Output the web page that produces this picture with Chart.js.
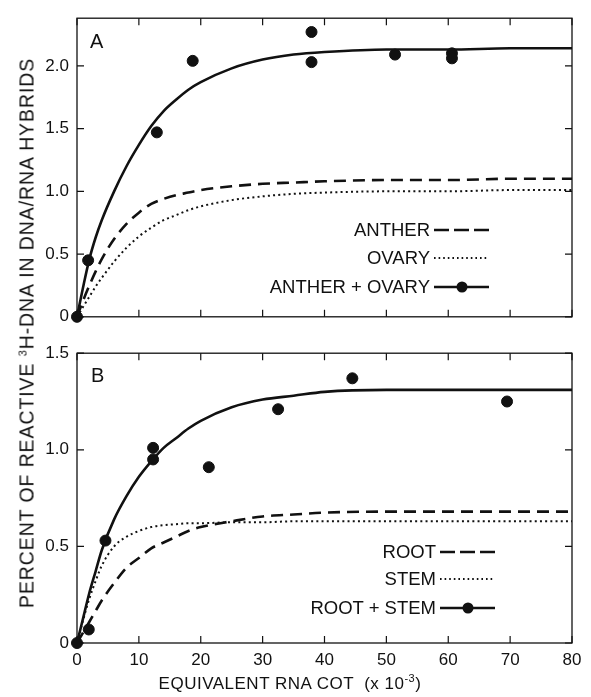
<!DOCTYPE html>
<html>
<head>
<meta charset="utf-8">
<script src="https://cdn.jsdelivr.net/npm/chart.js@4/dist/chart.umd.min.js"></script>
<style>
  body { margin: 0; background: #fff; }
  #wrap { position: relative; width: 591px; height: 697px; font-family: "Liberation Sans", Arial, sans-serif; color: #111; }
  canvas { position: absolute; left: 0; }
  #chartA { top: 0; }
  #chartB { top: 335px; }
  .lbl { position: absolute; font-size: 20px; }
  .ytitle { position: absolute; left: 27px; top: 333px; transform: translate(-50%, -50%) rotate(-90deg); white-space: nowrap; font-size: 19.5px; letter-spacing: 0.9px; }
  .xtitle { position: absolute; left: 290px; top: 683px; transform: translate(-50%, -50%); white-space: nowrap; font-size: 17px; letter-spacing: 0.5px; }
  sup { font-size: 11px; }
  .legend { position: absolute; font-size: 18.5px; }
  .row { position: absolute; right: 0; display: flex; align-items: center; white-space: nowrap; transform: translateY(-50%); }
  .row svg { margin-left: 3px; }
</style>
</head>
<body>
<div id="wrap">
  <canvas id="chartA" width="591" height="335"></canvas>
  <canvas id="chartB" width="591" height="362"></canvas>
  <div class="lbl" style="left:90px; top:30px;">A</div>
  <div class="lbl" style="left:91px; top:364px;">B</div>
  <div class="ytitle">PERCENT OF REACTIVE <sup>3</sup>H-DNA IN DNA/RNA HYBRIDS</div>
  <div class="xtitle">EQUIVALENT RNA COT &nbsp;(x 10<sup>-3</sup>)</div>
  <div class="legend" id="legendA" style="left:0; top:0; width:490px;"></div>
  <div class="legend" id="legendB" style="left:0; top:0; width:496px;"></div>
</div>
<script>
// x values (equivalent RNA Cot x 10^-3) where the fitted curves were read
const curveX = [0, 1, 2, 3, 4, 6, 8, 10, 12, 14, 16, 18, 20, 25, 30, 35, 40, 50, 60, 70, 80];

// panel A curves
const antherOvaryCurve = [0, 0.24, 0.46, 0.63, 0.77, 1.0, 1.2, 1.37, 1.52, 1.64, 1.73, 1.81, 1.87, 1.98, 2.05, 2.09, 2.11, 2.13, 2.13, 2.14, 2.14];
const antherCurve = [0, 0.13, 0.25, 0.36, 0.46, 0.62, 0.74, 0.83, 0.9, 0.94, 0.97, 0.99, 1.01, 1.04, 1.06, 1.07, 1.08, 1.09, 1.09, 1.10, 1.10];
const ovaryCurve = [0, 0.08, 0.16, 0.24, 0.31, 0.44, 0.55, 0.64, 0.71, 0.77, 0.81, 0.85, 0.88, 0.93, 0.96, 0.98, 0.99, 1.0, 1.0, 1.01, 1.01];
// measured points A (anther + ovary)
const pointsAx = [0, 1.8, 12.9, 18.7, 37.9, 37.9, 51.4, 60.6, 60.6];
const pointsAy = [0, 0.45, 1.47, 2.04, 2.27, 2.03, 2.09, 2.10, 2.06];

// panel B curves
const rootStemCurve = [0, 0.13, 0.26, 0.37, 0.48, 0.64, 0.76, 0.86, 0.94, 1.01, 1.06, 1.11, 1.15, 1.22, 1.26, 1.28, 1.30, 1.31, 1.31, 1.31, 1.31];
const rootCurve = [0, 0.055, 0.11, 0.165, 0.22, 0.31, 0.39, 0.44, 0.49, 0.52, 0.55, 0.58, 0.6, 0.63, 0.655, 0.665, 0.675, 0.68, 0.68, 0.68, 0.68];
const stemCurve = [0, 0.12, 0.23, 0.32, 0.40, 0.5, 0.55, 0.58, 0.6, 0.61, 0.615, 0.62, 0.62, 0.625, 0.625, 0.63, 0.63, 0.63, 0.63, 0.63, 0.63];
// measured points B (root + stem)
const pointsBx = [0, 1.9, 4.6, 12.3, 12.3, 21.3, 32.5, 44.5, 69.5];
const pointsBy = [0, 0.07, 0.53, 1.01, 0.95, 0.91, 1.21, 1.37, 1.25];

const xTicks = [0, 10, 20, 30, 40, 50, 60, 70, 80];

Chart.defaults.font.family = '"Liberation Sans", Arial, sans-serif';
Chart.defaults.font.size = 17;
Chart.defaults.color = '#111';

const INK = '#111';

function toXY(xs, ys) {
    return xs.map((x, i) => ({ x: x, y: ys[i] }));
}

function curve(ys, dash, width) {
    return {
        type: 'line',
        data: toXY(curveX, ys),
        borderColor: INK,
        borderWidth: width,
        borderDash: dash,
        pointRadius: 0,
        fill: false,
        cubicInterpolationMode: 'monotone'
    };
}

function dots(xs, ys) {
    return {
        type: 'scatter',
        data: toXY(xs, ys),
        backgroundColor: INK,
        borderColor: INK,
        pointRadius: 5.5,
        clip: false
    };
}

// inward tick marks on all four sides
const innerTicks = {
    id: 'innerTicks',
    afterDraw(chart) {
        const { ctx, chartArea: a, scales } = chart;
        const len = 7;
        ctx.save();
        ctx.strokeStyle = INK;
        ctx.lineWidth = 1.2;
        ctx.beginPath();
        scales.x.ticks.forEach(t => {
            const px = scales.x.getPixelForValue(t.value);
            ctx.moveTo(px, a.bottom); ctx.lineTo(px, a.bottom - len);
            ctx.moveTo(px, a.top); ctx.lineTo(px, a.top + len);
        });
        scales.y.ticks.forEach(t => {
            const py = scales.y.getPixelForValue(t.value);
            ctx.moveTo(a.left, py); ctx.lineTo(a.left + len, py);
            ctx.moveTo(a.right, py); ctx.lineTo(a.right - len, py);
        });
        ctx.stroke();
        ctx.lineWidth = 1.3;
        ctx.strokeRect(a.left, a.top, a.right - a.left, a.bottom - a.top);
        ctx.restore();
    }
};

function makeChart(id, datasets, yMax, showX, padTop, xHeight) {
    return new Chart(document.getElementById(id), {
        data: { datasets: datasets },
        options: {
            responsive: false,
            animation: false,
            layout: { padding: { top: padTop, right: 19, left: 0, bottom: 0 } },
            plugins: { legend: { display: false }, tooltip: { enabled: false } },
            scales: {
                x: {
                    type: 'linear', min: 0, max: 80,
                    afterBuildTicks: s => { s.ticks = xTicks.map(v => ({ value: v })); },
                    afterFit: s => { s.height = xHeight; },
                    grid: { display: false, drawTicks: false },
                    border: { display: false },
                    ticks: { display: showX, padding: 7, maxRotation: 0 }
                },
                y: {
                    type: 'linear', min: 0, max: yMax,
                    afterFit: s => { s.width = 77; },
                    grid: { display: false, drawTicks: false },
                    border: { display: false },
                    ticks: {
                        stepSize: 0.5, includeBounds: false, padding: 8,
                        callback: v => v === 0 ? '0' : v.toFixed(1)
                    }
                }
            }
        },
        plugins: [innerTicks]
    });
}

makeChart('chartA', [
    curve(antherOvaryCurve, [], 2.6),
    curve(antherCurve, [12, 7], 2.6),
    curve(ovaryCurve, [2, 3.2], 2),
    dots(pointsAx, pointsAy)
], 2.38, false, 15, 15);

makeChart('chartB', [
    curve(rootStemCurve, [], 2.6),
    curve(rootCurve, [12, 7], 2.6),
    curve(stemCurve, [2, 3.2], 2),
    dots(pointsBx, pointsBy)
], 1.5, true, 18, 54);

// legends: label text followed by a line sample
function sample(kind) {
    let line;
    if (kind === 'dash') line = '<line x1="1" y1="6" x2="56" y2="6" stroke="#111" stroke-width="2.6" stroke-dasharray="15 5"/>';
    else if (kind === 'dot') line = '<line x1="1" y1="6" x2="56" y2="6" stroke="#111" stroke-width="1.8" stroke-dasharray="1.6 3"/>';
    else line = '<line x1="1" y1="6" x2="56" y2="6" stroke="#111" stroke-width="2.6"/><circle cx="29" cy="6" r="5.5" fill="#111"/>';
    return '<svg width="57" height="12">' + line + '</svg>';
}

function buildLegend(id, names, kinds, rowsY) {
    const el = document.getElementById(id);
    el.innerHTML = names.map((n, i) =>
        '<div class="row" style="top:' + rowsY[i] + 'px">' + n + sample(kinds[i]) + '</div>').join('');
}

buildLegend('legendA', ['ANTHER', 'OVARY', 'ANTHER + OVARY'], ['dash', 'dot', 'solid'], [230, 258, 287]);
buildLegend('legendB', ['ROOT', 'STEM', 'ROOT + STEM'], ['dash', 'dot', 'solid'], [552, 579, 608]);
</script>
</body>
</html>
